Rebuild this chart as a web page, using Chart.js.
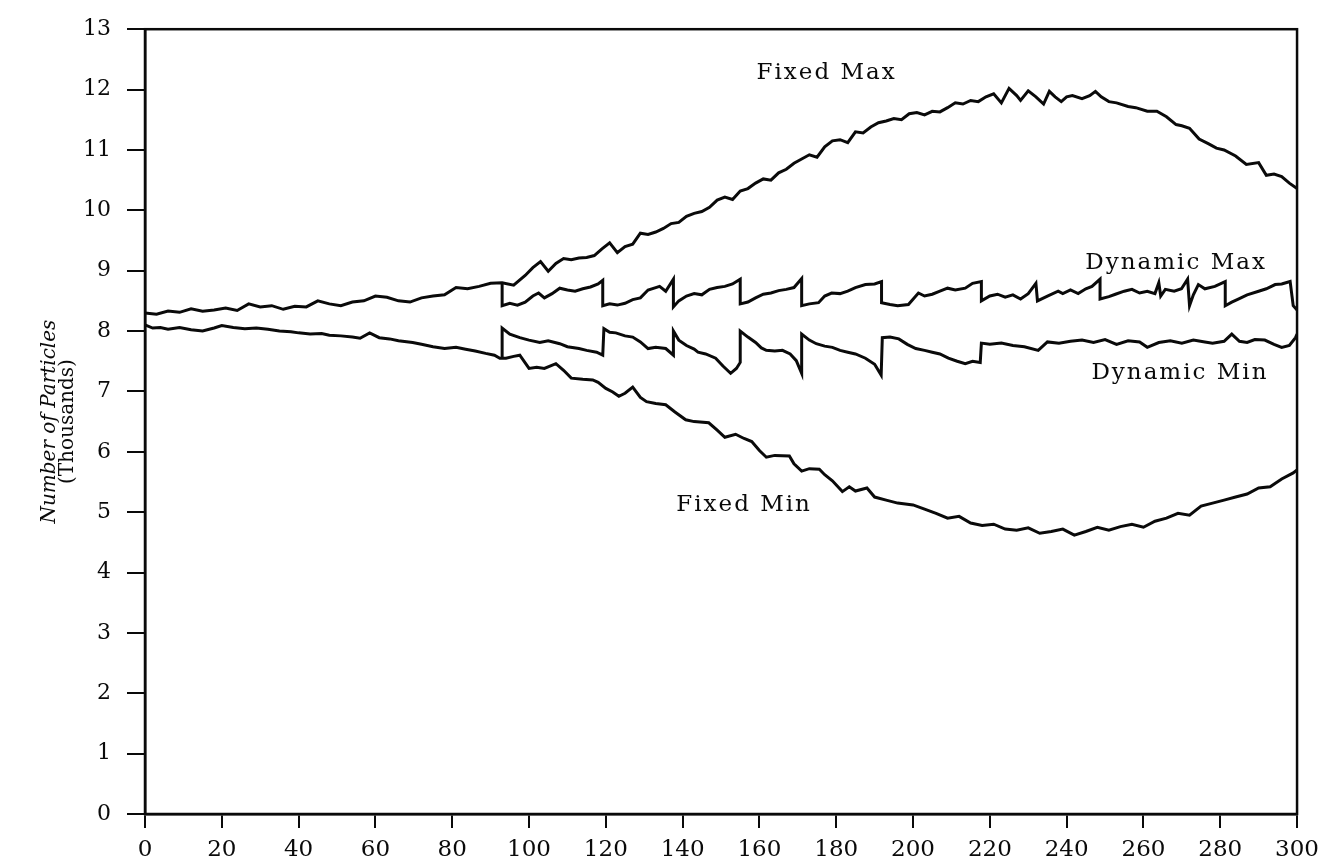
<!DOCTYPE html>
<html>
<head>
<meta charset="utf-8">
<title>Number of Particles</title>
<script src="https://cdn.jsdelivr.net/npm/chart.js@4.4.1/dist/chart.umd.min.js"></script>
<style>
  html, body { margin: 0; padding: 0; background: #fff; }
  canvas { display: block; }
</style>
</head>
<body>
<canvas id="chart" width="1327" height="864"></canvas>
<script>
// time steps (x) and particle counts in thousands (y)
const fixedMaxX = [0,3,6,9,12,15,18,21,24,27,30,33,36,39,42,45,48,51,54,57,60,63,66,69,72,75,78,81,84,87,90,93,96,99,101,103,105,107,109,111,113,115,117,119,121,123,125,127,129,131,133,135,137,139,141,143,145,147,149,151,153,155,157,159,161,163,165,167,169,171,173,175,177,179,181,183,185,187,189,191,193,195,197,199,201,203,205,207,209,211,213,215,217,219,221,223,225,227,228,230,232,234,235.5,237,238.6,240,241.5,244,246,247.5,249,251,253,256,258,261,263.5,266,268.5,270,272,274.5,277,279,281,284,286.8,290,292,294,296,298,300];
const fixedMaxY = [8.30,8.28,8.33,8.31,8.37,8.33,8.35,8.38,8.34,8.45,8.40,8.42,8.36,8.41,8.40,8.50,8.45,8.42,8.48,8.50,8.58,8.56,8.50,8.48,8.55,8.58,8.60,8.72,8.70,8.74,8.79,8.80,8.76,8.92,9.05,9.15,8.99,9.12,9.20,9.18,9.21,9.22,9.25,9.36,9.46,9.30,9.40,9.44,9.62,9.60,9.64,9.70,9.78,9.80,9.90,9.95,9.98,10.05,10.17,10.22,10.18,10.32,10.36,10.45,10.52,10.50,10.62,10.68,10.78,10.85,10.92,10.88,11.05,11.15,11.17,11.12,11.30,11.28,11.38,11.45,11.48,11.52,11.50,11.60,11.62,11.58,11.64,11.63,11.70,11.78,11.76,11.82,11.80,11.88,11.93,11.78,12.02,11.90,11.82,11.98,11.88,11.76,11.97,11.88,11.80,11.88,11.90,11.85,11.90,11.97,11.88,11.80,11.78,11.72,11.70,11.64,11.64,11.55,11.42,11.40,11.36,11.18,11.10,11.03,11.00,10.90,10.76,10.79,10.58,10.60,10.56,10.45,10.36];

const dynMaxX = [93,93,95,97,99,101,102.5,104,106,108,110,112,114,116,118,119.2,119.2,121,123,125,127,129,131,133,134,135.6,137.6,137.6,139,141,143,145,147,149,151,153,155,155,157,159,161,163,165,167,169,171,171,173,175.4,177,178.8,181,183,185,187.6,190,191.8,191.8,194,196,198.8,201.4,203,205,207,209,211,213.6,215.5,217.8,217.8,220,222,224,226,228,230,232,232.4,235,237.8,239,241,243,245,246.6,248.7,248.7,251,252.7,255,257,259,261,263,264,264.5,265.7,268,269.9,271.5,272,273,274.3,276,278.6,281.3,281.3,283,284.7,287,290,292,294.3,296,298.2,299,300];
const dynMaxY = [8.80,8.42,8.46,8.43,8.48,8.58,8.63,8.55,8.62,8.71,8.68,8.66,8.70,8.73,8.78,8.84,8.42,8.45,8.43,8.46,8.52,8.55,8.68,8.72,8.74,8.66,8.86,8.40,8.50,8.58,8.62,8.60,8.69,8.72,8.74,8.78,8.86,8.45,8.48,8.55,8.61,8.63,8.67,8.69,8.72,8.87,8.42,8.45,8.47,8.58,8.63,8.62,8.66,8.72,8.77,8.78,8.82,8.47,8.44,8.42,8.44,8.63,8.58,8.61,8.66,8.71,8.68,8.71,8.79,8.82,8.50,8.58,8.61,8.56,8.60,8.53,8.62,8.79,8.50,8.58,8.66,8.62,8.68,8.62,8.70,8.74,8.86,8.53,8.57,8.61,8.66,8.69,8.63,8.66,8.62,8.80,8.58,8.69,8.66,8.70,8.86,8.42,8.60,8.77,8.70,8.74,8.82,8.42,8.48,8.53,8.60,8.66,8.70,8.77,8.78,8.82,8.42,8.35];

const fixedMinX = [0,2,4,6,9,12,15,18,20,23,26,29,32,35,38,40,43,46,48,51,54,56,58.5,61,63.7,66,69.7,72,75,78,81,83.5,86,88.7,91,92.4,94,96,97.6,100,102,104,107,109,111,114,116.6,118,120,121.8,123.4,125,127,129,130.6,133,135.6,138,140.8,143,146.8,149,151,153.8,156,158,160,161.8,164,167.8,169,171,173,175.6,177,179,181.6,183.4,185,188,190,193,196,200,203,206,209,212,215,218,221,224,227,230,233,236,239,242,245,248,251,254,257,260,263,266,269,272,275,278,281,284,287,290,293,296,299,300];
const fixedMinY = [8.10,8.05,8.06,8.03,8.06,8.02,8.00,8.05,8.09,8.06,8.04,8.05,8.03,8.00,7.99,7.97,7.95,7.96,7.93,7.92,7.90,7.88,7.97,7.89,7.87,7.84,7.81,7.78,7.74,7.71,7.73,7.70,7.67,7.63,7.60,7.55,7.55,7.58,7.60,7.38,7.40,7.38,7.46,7.35,7.22,7.20,7.19,7.15,7.05,6.99,6.92,6.97,7.07,6.90,6.83,6.80,6.78,6.66,6.53,6.50,6.48,6.36,6.24,6.29,6.22,6.17,6.02,5.91,5.94,5.93,5.80,5.68,5.72,5.71,5.62,5.52,5.34,5.42,5.35,5.40,5.25,5.20,5.15,5.12,5.05,4.98,4.90,4.93,4.82,4.78,4.80,4.72,4.70,4.74,4.65,4.68,4.72,4.62,4.68,4.75,4.70,4.76,4.80,4.75,4.85,4.90,4.98,4.95,5.10,5.15,5.20,5.25,5.30,5.40,5.42,5.55,5.65,5.70];

const dynMinX = [93,93,95,97.6,100,102.8,105,108,110,113,115,117.6,119.2,119.5,121,122.6,125,127,129,131,133,135.6,137.6,137.6,139,141,143,144,146,148.6,150.5,152.5,154,155,155,157,159,160.5,161.8,164,166,168,169.6,171,171,173,174.8,177,179,181,183,185,187.6,190,191.7,192,194,196.3,198.5,200.7,203,205,207,209.2,211.5,213.6,215.5,217.5,217.8,220,223,226,229,232.6,235,238,241,244,247,250,253,256,259,261,264,267,270,273,276,278,281,283,285,287,289,291.6,294,296,298,299.6,300];
const dynMinY = [7.55,8.05,7.95,7.89,7.85,7.81,7.84,7.79,7.74,7.71,7.68,7.65,7.60,8.04,7.98,7.97,7.92,7.90,7.82,7.71,7.73,7.71,7.60,8.00,7.85,7.76,7.70,7.65,7.62,7.55,7.42,7.30,7.38,7.48,8.00,7.90,7.81,7.72,7.68,7.67,7.68,7.62,7.51,7.30,7.95,7.85,7.79,7.75,7.73,7.68,7.65,7.62,7.55,7.45,7.27,7.89,7.90,7.87,7.78,7.71,7.68,7.65,7.62,7.55,7.50,7.46,7.50,7.48,7.80,7.78,7.80,7.76,7.74,7.68,7.82,7.80,7.83,7.85,7.81,7.86,7.78,7.84,7.82,7.73,7.81,7.84,7.80,7.85,7.82,7.80,7.83,7.95,7.83,7.81,7.86,7.85,7.78,7.73,7.76,7.89,7.95];

const xTicks = [0,20,40,60,80,100,120,140,160,180,200,220,240,260,280,300];
const yTicks = [0,1,2,3,4,5,6,7,8,9,10,11,12,13];

// curve labels placed in data units
const curveLabels = ['Fixed Max', 'Dynamic Max', 'Dynamic Min', 'Fixed Min'];
const curveLabelX = [177.5, 268.5, 269.5, 156];
const curveLabelY = [12.28, 9.12, 7.3, 5.12];

const toPoints = (xs, ys) => xs.map((x, i) => ({ x: x, y: ys[i] }));

const FONT = '"DejaVu Serif", "Liberation Serif", serif';
const INK = '#0a0a0a';

const lineStyle = {
  showLine: true,
  borderColor: INK,
  borderWidth: 3,
  pointRadius: 0,
  tension: 0,
  fill: false
};

const framePlugin = {
  id: 'frame',
  afterDraw(chart) {
    const { ctx, chartArea: a, scales } = chart;
    ctx.save();
    ctx.strokeStyle = INK;
    ctx.lineWidth = 2.5;
    ctx.strokeRect(a.left, a.top, a.right - a.left, a.bottom - a.top);

    // curve names
    ctx.fillStyle = INK;
    ctx.font = '23px ' + FONT;
    ctx.letterSpacing = '2px';
    ctx.textAlign = 'center';
    ctx.textBaseline = 'middle';
    curveLabels.forEach((t, i) => {
      const px = scales.x.getPixelForValue(curveLabelX[i]);
      const py = scales.y.getPixelForValue(curveLabelY[i]);
      ctx.fillText(t, px, py);
    });
    ctx.letterSpacing = '0px';

    // y axis title, two lines
    const cy = (a.top + a.bottom) / 2;
    ctx.translate(50, cy);
    ctx.rotate(-Math.PI / 2);
    ctx.font = 'italic 20px ' + FONT;
    ctx.fillText('Number of Particles', 0, 0);
    ctx.font = '20px ' + FONT;
    ctx.fillText('(Thousands)', 0, 18);
    ctx.restore();
  }
};

new Chart(document.getElementById('chart'), {
  type: 'scatter',
  data: {
    datasets: [
      { label: 'Fixed Max', data: toPoints(fixedMaxX, fixedMaxY), ...lineStyle },
      { label: 'Dynamic Max', data: toPoints(dynMaxX, dynMaxY), ...lineStyle },
      { label: 'Dynamic Min', data: toPoints(dynMinX, dynMinY), ...lineStyle },
      { label: 'Fixed Min', data: toPoints(fixedMinX, fixedMinY), ...lineStyle }
    ]
  },
  options: {
    responsive: false,
    animation: false,
    layout: { padding: { top: 20, right: 29, left: 0, bottom: 0 } },
    plugins: {
      legend: { display: false },
      tooltip: { enabled: false }
    },
    scales: {
      x: {
        type: 'linear',
        min: 0,
        max: 300,
        afterBuildTicks: (s) => { s.ticks = xTicks.map(v => ({ value: v })); },
        afterFit: (s) => { s.height = 50; },
        border: { display: true, color: INK, width: 2.5 },
        grid: { drawOnChartArea: false, drawTicks: true, tickLength: 14, color: INK, lineWidth: 2 },
        ticks: { color: INK, padding: 8, maxRotation: 0, font: { family: FONT, size: 23 } }
      },
      y: {
        type: 'linear',
        min: 0,
        max: 13,
        afterBuildTicks: (s) => { s.ticks = yTicks.map(v => ({ value: v })); },
        afterFit: (s) => { s.width = 145; },
        border: { display: true, color: INK, width: 2.5 },
        grid: { drawOnChartArea: false, drawTicks: true, tickLength: 18, color: INK, lineWidth: 2 },
        ticks: { color: INK, padding: 16, font: { family: FONT, size: 22 } }
      }
    }
  },
  plugins: [framePlugin]
});
</script>
</body>
</html>
